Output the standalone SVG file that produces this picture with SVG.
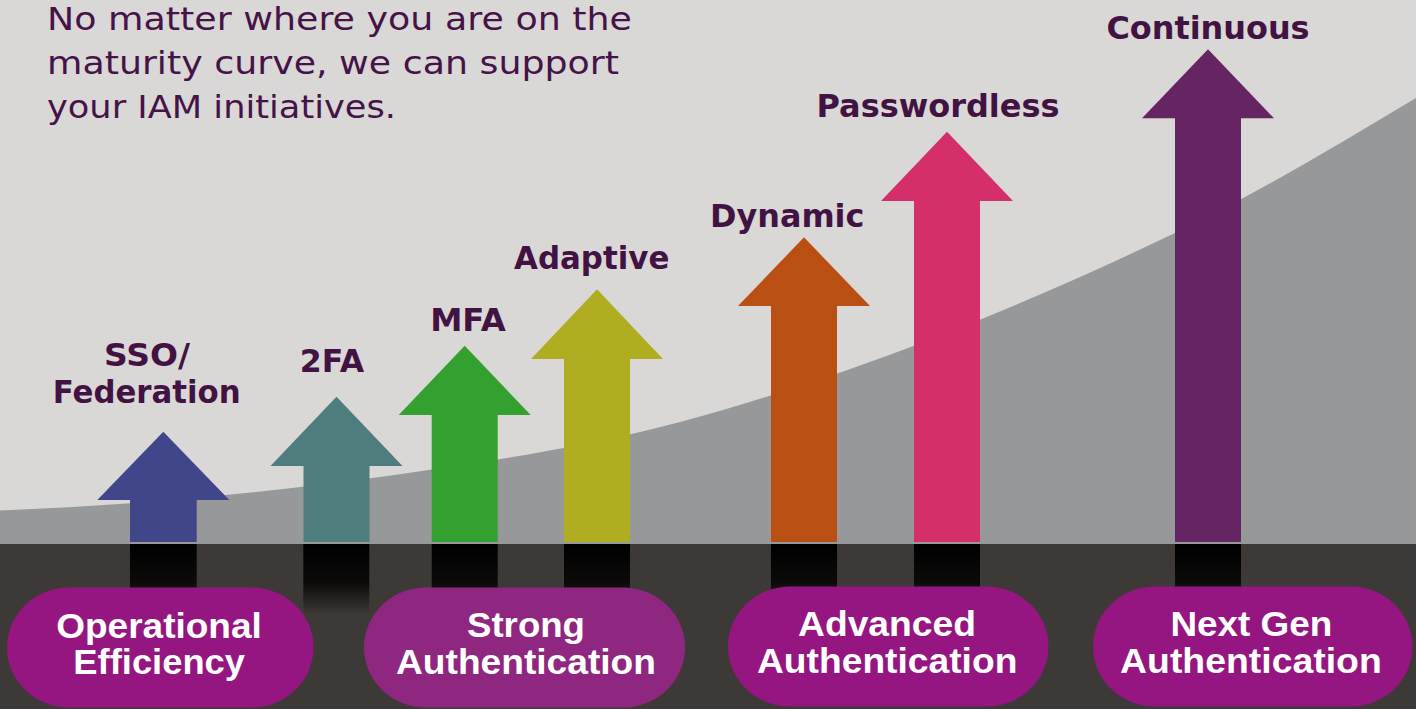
<svg xmlns="http://www.w3.org/2000/svg" width="1416" height="709" viewBox="0 0 1416 709">
<defs>
<style>
.intro{font-family:"DejaVu Sans","Liberation Sans",sans-serif;font-size:32px;fill:#451347}
.lbl{font-family:"DejaVu Sans","Liberation Sans",sans-serif;font-weight:700;font-size:32px;fill:#421243;text-anchor:middle}
.pill{fill:#951681}
.pilltxt{font-family:"Liberation Sans",Arial,sans-serif;font-weight:700;font-size:35px;fill:#ffffff;text-anchor:middle}
.shadow{fill:url(#shade)}
</style>
<linearGradient id="shade" gradientUnits="userSpaceOnUse" x1="0" y1="544" x2="0" y2="615">
<stop offset="0" stop-color="#000000"/>
<stop offset="0.55" stop-color="#0c0b0a"/>
<stop offset="1" stop-color="#3d3936"/>
</linearGradient>
</defs>

<rect id="sky" x="0" y="0" width="1416" height="709" fill="#d9d8d6"/>
<path id="curve" d="M0,510.5 C144,504.7 288,491.1 432,469.5 C514.7,457.1 597.3,444.3 680,422 C845,377.4 1010,312.2 1175,233 C1255.3,194.4 1335.7,146.2 1416,98 L1416,544 L0,544 Z" fill="#97989a"/>
<rect id="ground" x="0" y="544" width="1416" height="165" fill="#3d3936"/>

<g id="intro-text">
<text class="intro" x="47" y="29.5" textLength="585" lengthAdjust="spacingAndGlyphs">No matter where you are on the</text>
<text class="intro" x="47" y="73.5" textLength="572" lengthAdjust="spacingAndGlyphs">maturity curve, we can support</text>
<text class="intro" x="47" y="118" textLength="349" lengthAdjust="spacingAndGlyphs">your IAM initiatives.</text>
</g>

<g id="shadows">
<rect class="shadow" x="130" y="544" width="66.7" height="71"/>
<rect class="shadow" x="303.3" y="544" width="66" height="71"/>
<rect class="shadow" x="431.7" y="544" width="66" height="71"/>
<rect class="shadow" x="564" y="544" width="66" height="71"/>
<rect class="shadow" x="771" y="544" width="66" height="71"/>
<rect class="shadow" x="914" y="544" width="66" height="71"/>
<rect class="shadow" x="1175" y="544" width="66" height="71"/>
</g>

<g id="node-sso">
<polygon points="163.3,431.7 229.3,500 196.7,500 196.7,542 130,542 130,500 97.3,500" fill="#414589"/>
<text class="lbl" x="147" y="366" textLength="86" lengthAdjust="spacingAndGlyphs">SSO/</text>
<text class="lbl" x="146.7" y="403.3" textLength="188" lengthAdjust="spacingAndGlyphs">Federation</text>
</g>

<g id="node-2fa">
<polygon points="336.5,396.7 402.5,466 369.5,466 369.5,542 303.5,542 303.5,466 270.5,466" fill="#4d7d7d"/>
<text class="lbl" x="332" y="371.7" textLength="64.3" lengthAdjust="spacingAndGlyphs">2FA</text>
</g>

<g id="node-mfa">
<polygon points="464.7,345.7 530.7,415 497.7,415 497.7,542 431.7,542 431.7,415 398.7,415" fill="#33a02f"/>
<text class="lbl" x="468" y="331" textLength="75.7" lengthAdjust="spacingAndGlyphs">MFA</text>
</g>

<g id="node-adaptive">
<polygon points="597,289.3 663,359 630,359 630,542 564,542 564,359 531,359" fill="#b0ae20"/>
<text class="lbl" x="591.7" y="269.3" textLength="155.3" lengthAdjust="spacingAndGlyphs">Adaptive</text>
</g>

<g id="node-dynamic">
<polygon points="804,237.3 870,306 837,306 837,542 771,542 771,306 738,306" fill="#b94f13"/>
<text class="lbl" x="787.2" y="226.7" textLength="154.4" lengthAdjust="spacingAndGlyphs">Dynamic</text>
</g>

<g id="node-passwordless">
<polygon points="947,131.7 1013,201 980,201 980,542 914,542 914,201 881,201" fill="#d42e6b"/>
<text class="lbl" x="938" y="116.7" textLength="243" lengthAdjust="spacingAndGlyphs">Passwordless</text>
</g>

<g id="node-continuous">
<polygon points="1208,49.3 1274,118.3 1241,118.3 1241,542 1175,542 1175,118.3 1142,118.3" fill="#652462"/>
<text class="lbl" x="1208" y="39.3" textLength="203.2" lengthAdjust="spacingAndGlyphs">Continuous</text>
</g>

<g id="stage-operational">
<rect class="pill" x="7" y="587.5" width="306.5" height="120" rx="62" ry="60"/>
<text class="pilltxt" x="159" y="637.5" textLength="205.7" lengthAdjust="spacingAndGlyphs">Operational</text>
<text class="pilltxt" x="159.2" y="674.3" textLength="171.7" lengthAdjust="spacingAndGlyphs">Efficiency</text>
</g>

<g id="stage-strong">
<rect x="364" y="587.5" width="321" height="120" rx="62" ry="60" fill="#8f2680"/>
<text class="pilltxt" x="526" y="637" textLength="118" lengthAdjust="spacingAndGlyphs">Strong</text>
<text class="pilltxt" x="526" y="673.5" textLength="260" lengthAdjust="spacingAndGlyphs">Authentication</text>
</g>

<g id="stage-advanced">
<rect class="pill" x="728" y="586.5" width="320.5" height="120" rx="62" ry="60"/>
<text class="pilltxt" x="887" y="636" textLength="178" lengthAdjust="spacingAndGlyphs">Advanced</text>
<text class="pilltxt" x="887.2" y="672.8" textLength="260.4" lengthAdjust="spacingAndGlyphs">Authentication</text>
</g>

<g id="stage-nextgen">
<rect class="pill" x="1093" y="586.5" width="319.5" height="120" rx="62" ry="60"/>
<text class="pilltxt" x="1251.4" y="636" textLength="162" lengthAdjust="spacingAndGlyphs">Next Gen</text>
<text class="pilltxt" x="1250.9" y="672.8" textLength="261.7" lengthAdjust="spacingAndGlyphs">Authentication</text>
</g>

<g id="connectors"/>
</svg>
